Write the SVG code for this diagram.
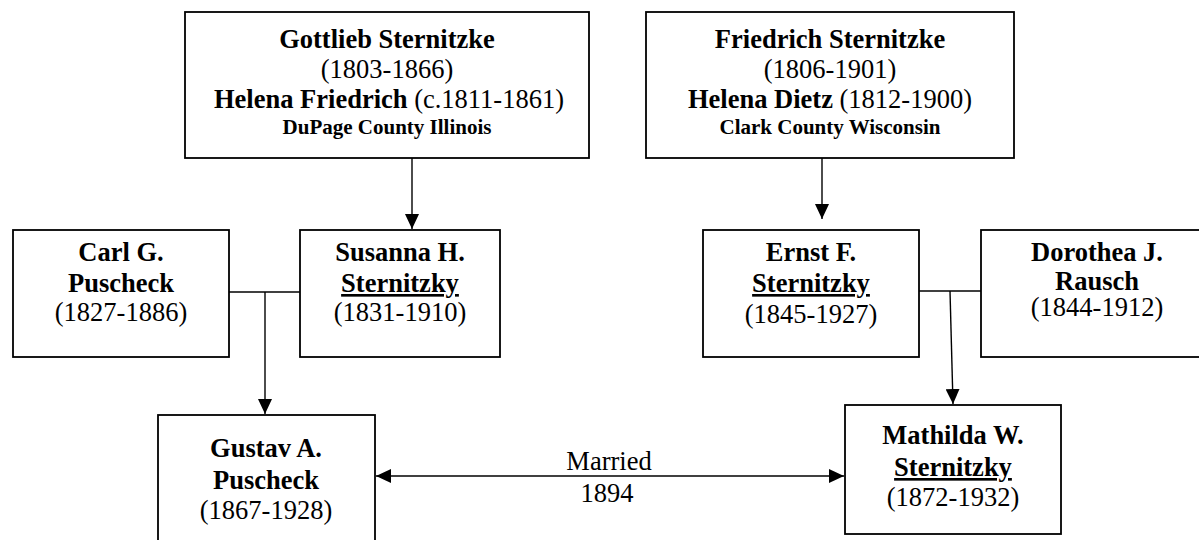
<svg xmlns="http://www.w3.org/2000/svg" width="1199" height="540" viewBox="0 0 1199 540">
<style>
.box{fill:#fff;stroke:#000;stroke-width:1.8}
text{font-family:"Liberation Serif","Times New Roman",serif;font-size:26.5px;fill:#000;text-anchor:middle}
.b{font-weight:bold}
.s{font-weight:bold;font-size:21px}
.u{text-decoration:underline}
.ln{stroke:#000;stroke-width:1.4;fill:none}
</style>
<defs>
<marker id="ah" viewBox="0 0 15 14" refX="15" refY="7" markerWidth="15" markerHeight="14" markerUnits="userSpaceOnUse" orient="auto-start-reverse">
<path d="M0,0 L15,7 L0,14 Z" fill="#000"/>
</marker>
</defs>
<rect width="1199" height="540" fill="#fff"/>
<g id="connectors">
<line class="ln" x1="412" y1="158" x2="412" y2="229" marker-end="url(#ah)"/>
<line class="ln" x1="822" y1="148" x2="822" y2="219" marker-end="url(#ah)"/>
<line class="ln" x1="229" y1="292" x2="300" y2="292"/>
<line class="ln" x1="265" y1="292" x2="265" y2="414" marker-end="url(#ah)"/>
<line class="ln" x1="919" y1="291" x2="981" y2="291"/>
<line class="ln" x1="950" y1="291" x2="953" y2="404" marker-end="url(#ah)"/>
<line class="ln" x1="376" y1="476" x2="844" y2="476" marker-start="url(#ah)" marker-end="url(#ah)"/>
<text x="609" y="470">Married</text>
<text x="607" y="502">1894</text>
</g>
<g id="gottlieb">
<rect class="box" x="185" y="12" width="404" height="146"/>
<text x="387" y="48" class="b">Gottlieb Sternitzke</text>
<text x="387" y="78">(1803-1866)</text>
<text x="389" y="108"><tspan class="b">Helena Friedrich</tspan> (c.1811-1861)</text>
<text x="387" y="134" class="s">DuPage County Illinois</text>
</g>
<g id="friedrich">
<rect class="box" x="646" y="12" width="368" height="146"/>
<text x="830" y="48" class="b">Friedrich Sternitzke</text>
<text x="830" y="78">(1806-1901)</text>
<text x="830" y="108"><tspan class="b">Helena Dietz</tspan> (1812-1900)</text>
<text x="830" y="134" class="s">Clark County Wisconsin</text>
</g>
<g id="carl">
<rect class="box" x="13" y="230" width="216" height="127"/>
<text x="121" y="261" class="b">Carl G.</text>
<text x="121" y="292" class="b">Puscheck</text>
<text x="121" y="321">(1827-1886)</text>
</g>
<g id="susanna">
<rect class="box" x="300" y="230" width="200" height="127"/>
<text x="400" y="261" class="b">Susanna H.</text>
<text x="400" y="292" class="b u">Sternitzky</text>
<text x="400" y="321">(1831-1910)</text>
</g>
<g id="ernst">
<rect class="box" x="703" y="230" width="216" height="127"/>
<text x="811" y="261" class="b">Ernst F.</text>
<text x="811" y="292" class="b u">Sternitzky</text>
<text x="811" y="323">(1845-1927)</text>
</g>
<g id="dorothea">
<rect class="box" x="981" y="230" width="232" height="127"/>
<text x="1097" y="261" class="b">Dorothea J.</text>
<text x="1097" y="290" class="b">Rausch</text>
<text x="1097" y="316">(1844-1912)</text>
</g>
<g id="gustav">
<rect class="box" x="158" y="415" width="217" height="130"/>
<text x="266" y="457" class="b">Gustav A.</text>
<text x="266" y="489" class="b">Puscheck</text>
<text x="266" y="519">(1867-1928)</text>
</g>
<g id="mathilda">
<rect class="box" x="845" y="405" width="216" height="129"/>
<text x="953" y="444" class="b">Mathilda W.</text>
<text x="953" y="476" class="b u">Sternitzky</text>
<text x="953" y="506">(1872-1932)</text>
</g>
</svg>
